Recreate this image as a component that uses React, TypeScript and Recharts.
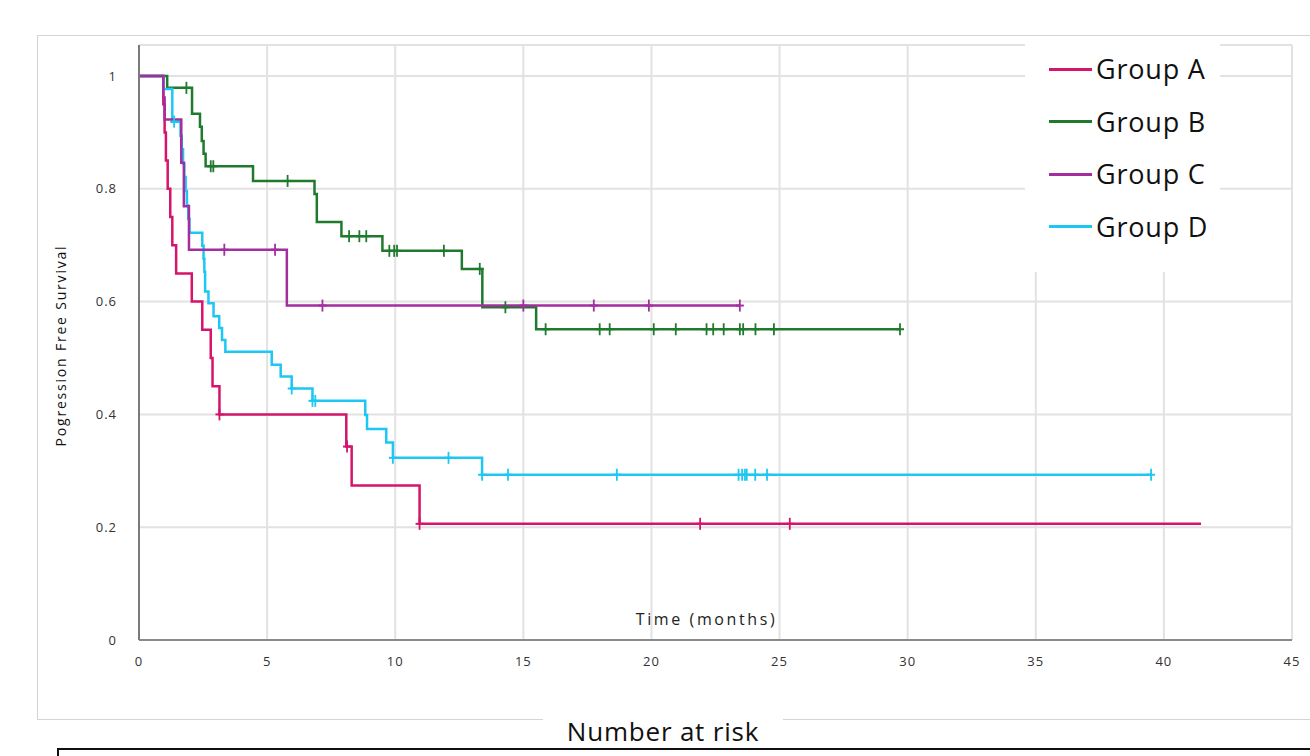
import React from 'react';
import { ComposedChart, Line, XAxis, YAxis, CartesianGrid, Legend, Label } from 'recharts';

// ---- Data ----
const groupNames = ['Group A', 'Group B', 'Group C', 'Group D'];
const groupColors = ['#D5156B', '#1F7A2E', '#A22E9F', '#1CC8F3'];

const xTicks = [0, 5, 10, 15, 20, 25, 30, 35, 40, 45];
const yTicks = [0, 0.2, 0.4, 0.6, 0.8, 1];

// Group A
const aEventT = [0, 0.95, 1.0, 1.05, 1.12, 1.22, 1.3, 1.45, 2.06, 2.47, 2.8, 2.87, 3.14, 8.09, 8.3, 10.95];
const aEventS = [1, 0.95, 0.9, 0.85, 0.8, 0.75, 0.7, 0.65, 0.6, 0.55, 0.5, 0.45, 0.4, 0.343, 0.274, 0.206];
const aCensorT = [3.14, 8.12, 10.95, 21.9, 25.4];
const aEndT = 41.45;

// Group B
const bEventT = [0, 1.1, 2.07, 2.38, 2.45, 2.52, 2.6, 4.45, 6.85, 6.94, 7.9, 9.5, 12.6, 13.4, 15.5];
const bEventS = [1, 0.979, 0.933, 0.91, 0.885, 0.862, 0.84, 0.814, 0.791, 0.741, 0.716, 0.69, 0.658, 0.59, 0.551];
const bCensorT = [1.85, 2.8, 2.9, 5.8, 8.2, 8.6, 8.87, 9.77, 9.96, 10.07, 11.9, 13.3, 14.3, 15.87, 17.98, 18.37, 20.09, 20.95, 22.15, 22.41, 22.82, 23.45, 23.58, 24.06, 24.78, 29.7];
const bEndT = 29.7;

// Group C
const cEventT = [0, 0.95, 1.0, 1.65, 1.75, 1.95, 5.77];
const cEventS = [1, 0.962, 0.923, 0.846, 0.769, 0.692, 0.593];
const cCensorT = [3.33, 5.31, 7.16, 15.0, 17.75, 19.9, 23.45];
const cEndT = 23.45;

// Group D
const dEventT = [0, 0.95, 1.3, 1.62, 1.67, 1.72, 1.77, 1.82, 1.87, 1.92, 1.97, 2.47, 2.52, 2.55, 2.58, 2.71, 2.91, 3.13, 3.24, 3.37, 5.18, 5.53, 5.96, 6.77, 8.83, 8.9, 9.65, 9.91, 13.39];
const dEventS = [1, 0.977, 0.919, 0.894, 0.87, 0.845, 0.821, 0.796, 0.771, 0.747, 0.722, 0.699, 0.676, 0.653, 0.618, 0.597, 0.574, 0.553, 0.532, 0.511, 0.488, 0.467, 0.446, 0.424, 0.399, 0.374, 0.35, 0.323, 0.293];
const dCensorT = [1.37, 5.96, 6.77, 6.88, 9.91, 12.08, 13.39, 14.4, 18.65, 23.4, 23.54, 23.65, 23.72, 24.05, 24.51, 39.5];
const dEndT = 39.5;

type Pt = { t: number; s: number; c: boolean };

function buildKM(eventT: number[], eventS: number[], censorT: number[], endT: number): Pt[] {
  const pts: Pt[] = eventT.map((t, i) => ({ t, s: eventS[i], c: false }));
  const levelAt = (t: number) => {
    let s = eventS[0];
    for (let i = 0; i < eventT.length; i++) if (eventT[i] <= t) s = eventS[i];
    return s;
  };
  censorT.forEach((t) => pts.push({ t, s: levelAt(t), c: true }));
  if (!censorT.includes(endT)) pts.push({ t: endT, s: levelAt(endT), c: false });
  pts.sort((p, q) => (p.t !== q.t ? p.t - q.t : (p.c ? 1 : 0) - (q.c ? 1 : 0)));
  return pts;
}

const seriesA = buildKM(aEventT, aEventS, aCensorT, aEndT);
const seriesB = buildKM(bEventT, bEventS, bCensorT, bEndT);
const seriesC = buildKM(cEventT, cEventS, cCensorT, cEndT);
const seriesD = buildKM(dEventT, dEventS, dCensorT, dEndT);

const makeDot = (color: string) => (props: any) => {
  const { cx, cy, payload, index } = props;
  if (!payload || !payload.c || cx == null || cy == null) return <g key={`d-${index}`} />;
  return (
    <g key={`d-${index}`}>
      <line x1={cx} x2={cx} y1={cy - 6} y2={cy + 6} stroke={color} strokeWidth={1.8} />
      <line x1={cx - 4} x2={cx + 4} y1={cy} y2={cy} stroke={color} strokeWidth={2} />
    </g>
  );
};

const LegendContent = () => (
  <div style={{ background: '#fff', width: 195, height: 232, position: 'relative' }}>
    {groupNames.map((n, i) => (
      <div
        key={n}
        style={{
          position: 'absolute',
          left: 24,
          top: 29 + i * 52.6 - 20,
          height: 40,
          display: 'flex',
          alignItems: 'center',
          whiteSpace: 'nowrap',
        }}
      >
        <div style={{ width: 43, height: 3, background: groupColors[i], marginRight: 4 }} />
        <span style={{ fontFamily: "'Open Sans', sans-serif", fontSize: 27, letterSpacing: 0.8, color: '#111', lineHeight: '40px' }}>{n}</span>
      </div>
    ))}
  </div>
);

const tickStyle = { fontSize: 13, fill: '#333', fontFamily: "'Open Sans', sans-serif", letterSpacing: 1 };

export default function App() {
  const lines = [
    { data: seriesA, color: groupColors[0], name: groupNames[0] },
    { data: seriesB, color: groupColors[1], name: groupNames[1] },
    { data: seriesD, color: groupColors[3], name: groupNames[3] },
    { data: seriesC, color: groupColors[2], name: groupNames[2] },
  ];
  return (
    <div style={{ position: 'absolute', left: 0, top: 0, width: 1310, height: 756, background: '#fff', overflow: 'hidden', fontFamily: "'Open Sans', sans-serif" }}>
      {/* chart frame */}
      <div style={{ position: 'absolute', left: 37, top: 35, width: 1300, height: 685, border: '1px solid #d4d4d4', boxSizing: 'border-box' }} />
      <div style={{ position: 'absolute', left: 0, top: 0 }}>
        <ComposedChart width={1310} height={756} margin={{ top: 45, right: 18, bottom: 76, left: 59 }}>
          <CartesianGrid stroke="#e2e2e2" strokeWidth={2} />
          <XAxis
            type="number"
            dataKey="t"
            domain={[0, 45]}
            ticks={xTicks}
            interval={0}
            height={40}
            tickLine={false}
            tickSize={0}
            tickMargin={17}
            axisLine={{ stroke: '#8a8a8a', strokeWidth: 2 }}
            tick={tickStyle}
            allowDuplicatedCategory={false}
          >
            <Label
              content={(p: any) => {
                const vb = p.viewBox || {};
                return (
                  <text
                    x={vb.x + vb.width / 2 - 9}
                    y={vb.y - 21}
                    textAnchor="middle"
                    dominantBaseline="central"
                    fontSize={16}
                    letterSpacing={2.6}
                    fill="#222"
                    fontFamily="'Open Sans', sans-serif"
                  >
                    Time (months)
                  </text>
                );
              }}
            />
          </XAxis>
          <YAxis
            type="number"
            domain={[0, 1.055]}
            ticks={yTicks}
            interval={0}
            width={80}
            tickLine={false}
            tickSize={0}
            tickMargin={22}
            axisLine={{ stroke: '#7a7a7a', strokeWidth: 2 }}
            tick={tickStyle}
            tickFormatter={(v: number) => String(v)}
          >
            <Label
              content={(p: any) => {
                const vb = p.viewBox || {};
                const cx = vb.x + 1;
                const cy = vb.y + vb.height / 2 + 3;
                return (
                  <text
                    x={cx}
                    y={cy}
                    transform={`rotate(-90 ${cx} ${cy})`}
                    textAnchor="middle"
                    dominantBaseline="central"
                    fontSize={14}
                    letterSpacing={1.8}
                    fill="#111"
                    fontFamily="'Open Sans', sans-serif"
                  >
                    Pogression Free Survival
                  </text>
                );
              }}
            />
          </YAxis>
          <Legend
            layout="vertical"
            align="center"
            verticalAlign="middle"
            content={LegendContent}
            wrapperStyle={{ position: 'absolute', left: 1025, top: 40, width: 195, height: 232 }}
          />
          {lines.map((l) => (
            <Line
              key={l.name}
              data={l.data}
              dataKey="s"
              name={l.name}
              type="stepAfter"
              stroke={l.color}
              strokeWidth={2.5}
              dot={makeDot(l.color)}
              activeDot={false}
              isAnimationActive={false}
            />
          ))}
        </ComposedChart>
      </div>
      {/* Number at risk */}
      <div style={{ position: 'absolute', left: 543, top: 716, width: 240, height: 30, background: '#fff', textAlign: 'center', fontSize: 26, letterSpacing: 0.8, lineHeight: '30px', color: '#111', whiteSpace: 'nowrap' }}>
        Number at risk
      </div>
      <div style={{ position: 'absolute', left: 57, top: 748, width: 1300, height: 40, border: '2px solid #111', boxSizing: 'border-box' }} />
    </div>
  );
}
